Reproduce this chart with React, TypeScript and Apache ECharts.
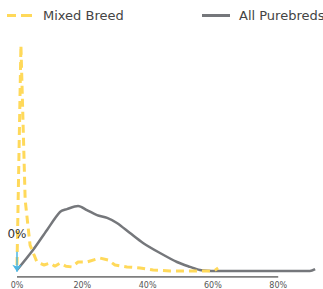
import React, { useEffect, useRef } from "react";
import * as echarts from "echarts";

const xTicks = [0, 20, 40, 60, 80];
const axisBaseline: [number, number][] = [[0, -2.5], [80, -2.5]];

const mixedBreed: [number, number][] = [
  [0, 2.5], [1.2, 94], [2.5, 29.6], [4, 10.8], [6.1, 3.75], [8.3, 2.5], [10.1, 3.3],
  [11.6, 2], [13.2, 3.3], [15, 2], [16.8, 1.7], [18.7, 3.75], [21.4, 3.75], [25.4, 5.4],
  [27.9, 4.6], [30, 2.5], [33.7, 1.7], [37.7, 1.25], [41.7, 0.4], [46.9, 0], [56, 0],
  [60.3, 0], [61.6, 1.25],
];

const allPurebreds: [number, number][] = [
  [0, 0.4], [4.9, 8.75], [9.2, 17.1], [13.2, 24.6], [15.3, 25.8], [18.7, 27.1],
  [21.4, 25.4], [24.5, 23.3], [27.6, 22.1], [30.6, 20], [34.6, 15.8], [38.6, 11.7],
  [43.8, 7.5], [49, 3.75], [53, 1.7], [56, 0.4], [61, 0], [75, 0], [89.7, 0], [91.3, 0.8],
];

const annotationFrom = 8;
const annotationTo = -0.3;
const annotationLabel = "0%";

const YELLOW = "#FFD95A";
const GRAY = "#75777B";

export default function App() {
  const ref = useRef<HTMLDivElement>(null);
  useEffect(() => {
    document.body.style.margin = "0";
    if (!ref.current) return;
    const chart = echarts.init(ref.current, undefined, { renderer: "svg" });
    chart.setOption({
      animation: false,
      textStyle: { fontFamily: "DejaVu Sans" },
      legend: [
        {
          left: 7,
          top: 9,
          padding: 0,
          itemWidth: 25,
          itemHeight: 3,
          icon: "path://M0,0H9V3H0Z M14,0H25V3H14Z",
          data: ["Mixed Breed"],
          textStyle: { fontSize: 13, color: "#444", fontFamily: "DejaVu Sans", padding: [0, 0, 0, 6] },
        },
        {
          left: 202,
          top: 9,
          padding: 0,
          itemWidth: 28,
          itemHeight: 3,
          icon: "path://M0,0H28V3H0Z",
          data: ["All Purebreds"],
          textStyle: { fontSize: 13, color: "#444", fontFamily: "DejaVu Sans", padding: [0, 0, 0, 4] },
        },
      ],
      grid: { left: 17, right: 5.6, top: 31, bottom: 12 },
      xAxis: {
        type: "value",
        min: 0,
        max: 92,
        interval: 20,
        axisLine: { show: false },
        axisTick: { show: false },
        splitLine: { show: false },
        axisLabel: {
          fontSize: 8,
          color: "#555",
          margin: 4,
          formatter: (v: number) => (xTicks.includes(v) ? `${v}%` : ""),
        },
      },
      yAxis: {
        type: "value",
        min: -2.5,
        max: 100,
        show: false,
      },
      series: [
        {
          name: "axis",
          type: "line",
          data: axisBaseline,
          symbol: "none",
          silent: true,
          lineStyle: { color: "#555", width: 1.5 },
          z: 1,
        },
        {
          name: "Mixed Breed",
          type: "line",
          data: mixedBreed,
          showSymbol: false,
          symbol: "none",
          clip: false,
          lineStyle: { color: YELLOW, width: 3, type: [8, 5] },
          itemStyle: { color: YELLOW },
          z: 3,
        },
        {
          name: "All Purebreds",
          type: "line",
          data: allPurebreds,
          showSymbol: false,
          symbol: "none",
          smooth: 0.3,
          clip: false,
          lineStyle: { color: GRAY, width: 2.5 },
          itemStyle: { color: GRAY },
          z: 2,
          markLine: {
            silent: true,
            symbol: ["none", "arrow"],
            symbolSize: 7,
            lineStyle: { color: "#4DB6E2", width: 1.5, type: "solid" },
            label: {
              show: true,
              position: "start",
              formatter: annotationLabel,
              fontSize: 12,
              color: "#333",
              distance: 12,
            },
            data: [[{ coord: [0, annotationFrom] }, { coord: [0, annotationTo] }]],
          },
        },
      ],
    });
    return () => chart.dispose();
  }, []);
  return <div ref={ref} style={{ width: 323, height: 289 }} />;
}
